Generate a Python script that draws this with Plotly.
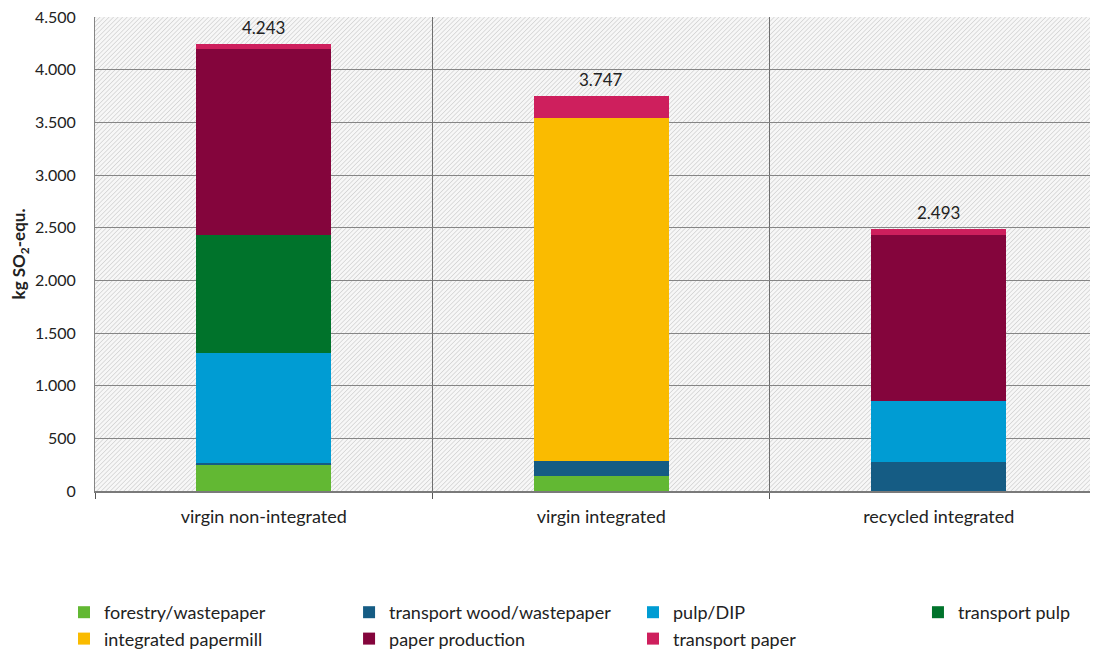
import base64
import plotly.graph_objects as go

categories = ["virgin non-integrated", "virgin integrated", "recycled integrated"]
series_names = ["forestry/wastepaper", "transport wood/wastepaper", "pulp/DIP", "transport pulp",
                "integrated papermill", "paper production", "transport paper"]
forestry = [250, 145, 0]
transport_wood = [20, 143, 278]
pulp_dip = [1041, 0, 573]
transport_pulp = [1118, 0, 0]
integrated_papermill = [0, 3259, 0]
paper_production = [1771, 0, 1581]
transport_paper = [43, 200, 61]
values = [forestry, transport_wood, pulp_dip, transport_pulp, integrated_papermill, paper_production, transport_paper]
colors = ["#62B833", "#155C84", "#009CD3", "#00732B", "#FABB00", "#84053C", "#CE1F5D"]
legend_ids = ["legend", "legend2", "legend3", "legend4", "legend", "legend2", "legend3"]
y_ticks = [0, 500, 1000, 1500, 2000, 2500, 3000, 3500, 4000, 4500]

Y_RANGE = [0, 4502]
X_RANGE = [-0.5, 2.472]
FONT = "Lato"
W, H = 1090, 644
ML, MR, MT, MB = 87, 0, 9, 161
PW, PH = W - ML - MR, H - MT - MB

xpos = list(range(len(categories)))
totals = [sum(v[i] for v in values) for i in range(len(categories))]

# hatched plot-area background as an inline SVG image
svg = (f'<svg xmlns="http://www.w3.org/2000/svg" width="{PW}" height="{PH}">'
       '<defs><pattern id="h" width="3.2" height="3.2" patternUnits="userSpaceOnUse" '
       'patternTransform="rotate(45)"><rect width="3.2" height="3.2" fill="#f7f7f7"/>'
       '<line x1="0" y1="0" x2="0" y2="3.2" stroke="#cdcdcd" stroke-width="1.3"/></pattern></defs>'
       f'<rect width="{PW}" height="{PH}" fill="url(#h)"/></svg>')
bg_src = "data:image/svg+xml;base64," + base64.b64encode(svg.encode()).decode()

fig = go.Figure()
for name, vals, col, lg in zip(series_names, values, colors, legend_ids):
    fig.add_trace(go.Bar(
        x=xpos, y=vals, name=name, marker=dict(color=col, line=dict(width=0)),
        width=0.4, legend=lg, legendgroup=name))

for xp, t in zip(xpos, totals):
    fig.add_annotation(x=xp, y=t, text=f"{t:,}".replace(",", "."), showarrow=False,
                       yanchor="bottom", yshift=4, font=dict(size=17, family=FONT, color="#222222"))

legend_common = dict(orientation="v", font=dict(size=18, family=FONT, color="#222222"),
                     bgcolor="rgba(0,0,0,0)", tracegroupgap=2, itemwidth=30,
                     xanchor="left", yanchor="top", traceorder="normal")
LEG_Y = -0.2173

fig.update_layout(
    width=W, height=H,
    margin=dict(l=ML, r=MR, t=MT, b=MB, autoexpand=False),
    paper_bgcolor="white", plot_bgcolor="white",
    barmode="stack", separators=",.",
    font=dict(family=FONT, size=17, color="#222222"),
    images=[dict(source=bg_src, xref="paper", yref="paper", x=0, y=1, sizex=1, sizey=1,
                 sizing="stretch", xanchor="left", yanchor="top", layer="below")],
    xaxis=dict(range=X_RANGE, tickvals=xpos, ticktext=categories, ticks="", showgrid=False,
               tickfont=dict(size=18, family=FONT), ticklabelstandoff=8,
               minor=dict(tickvals=[-0.5, 0.5, 1.5, 2.5], showgrid=True, gridcolor="#6e6e6e",
                          gridwidth=1, ticks="outside", ticklen=6, tickcolor="#555555"),
               showline=True, linecolor="#7a7a7a", linewidth=2, zeroline=False,
               automargin=False, fixedrange=True),
    yaxis=dict(range=Y_RANGE, tickvals=y_ticks, tickformat=",d", showgrid=True, gridcolor="#858585",
               gridwidth=1, showline=True, linecolor="#858585", zeroline=False,
               tickfont=dict(size=16, family=FONT), ticklabelstandoff=15, automargin=False,
               ticklabeloverflow="allow",
               title=dict(text="<b>kg SO<sub>2</sub>-equ.</b>", font=dict(size=17, family=FONT),
                          standoff=8)),
    legend=dict(x=-0.0309, y=LEG_Y, **legend_common),
    legend2=dict(x=0.2533, y=LEG_Y, **legend_common),
    legend3=dict(x=0.5364, y=LEG_Y, **legend_common),
    legend4=dict(x=0.8205, y=LEG_Y, **legend_common),
)

fig.write_html("out.html")
